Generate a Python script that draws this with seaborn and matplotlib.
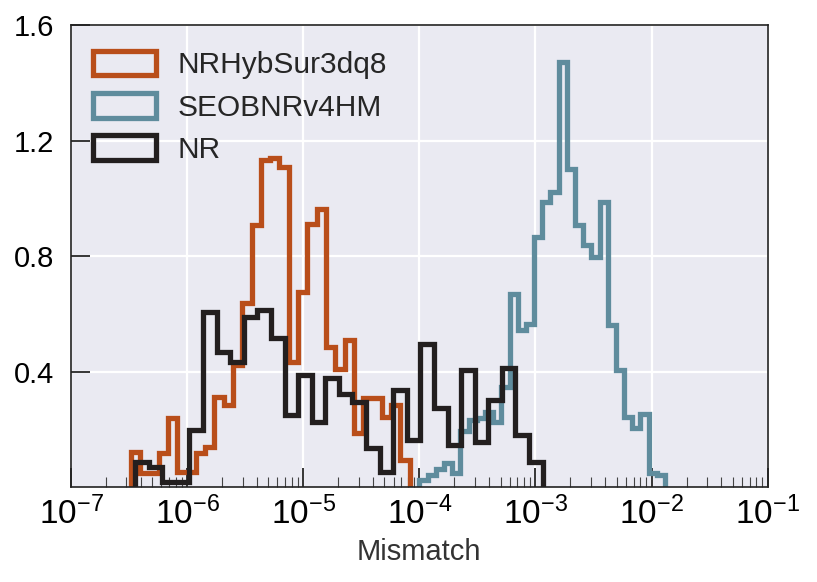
import numpy as np
import pandas as pd
import matplotlib
matplotlib.use("Agg")
import matplotlib.pyplot as plt
import seaborn as sns
from matplotlib.patches import Patch
from matplotlib.ticker import LogLocator, NullFormatter

# ---------------- data (density per log10 unit, 30 log-spaced bins each) ----------------
labels = ["NRHybSur3dq8", "SEOBNRv4HM", "NR"]
colors = ["#B94E1A", "#5F8C9D", "#231F1F"]

n_bins = 30
sur_range = (-6.485, -4.084)   # log10 mismatch range of NRHybSur3dq8 bins
seob_range = (-3.999, -1.884)  # log10 mismatch range of SEOBNRv4HM bins
nr_range = (-6.448, -2.938)    # log10 mismatch range of NR bins

sur_density = [0.123, 0.048, 0.048, 0.117, 0.238, 0.054, 0.054, 0.117, 0.140, 0.313,
               0.284, 0.422, 0.636, 0.906, 1.131, 1.138, 1.108, 0.434, 0.676, 0.912,
               0.964, 0.486, 0.410, 0.508, 0.187, 0.308, 0.308, 0.244, 0.284, 0.094]
seob_density = [0.025, 0.042, 0.062, 0.085, 0.048, 0.195, 0.232, 0.240, 0.261, 0.226,
                0.347, 0.670, 0.545, 0.566, 0.866, 0.987, 1.021, 1.471, 1.102, 0.906,
                0.837, 0.797, 0.987, 0.561, 0.405, 0.244, 0.204, 0.255, 0.048, 0.042]
nr_density = [0.088, 0.070, 0.019, 0.019, 0.198, 0.607, 0.468, 0.432, 0.589, 0.613,
              0.515, 0.250, 0.388, 0.226, 0.379, 0.322, 0.296, 0.134, 0.054, 0.336,
              0.165, 0.494, 0.273, 0.146, 0.405, 0.157, 0.301, 0.411, 0.180, 0.088]

x_major_ticks = [1e-7, 1e-6, 1e-5, 1e-4, 1e-3, 1e-2, 1e-1]
y_major_ticks = [0.4, 0.8, 1.2, 1.6]

ranges = [sur_range, seob_range, nr_range]
densities = [sur_density, seob_density, nr_density]

# ---------------- style ----------------
sns.set_style("darkgrid", {"axes.facecolor": "#EAEAF2", "grid.color": "white"})
plt.rcParams["font.family"] = ["Liberation Sans", "DejaVu Sans"]
plt.rcParams["mathtext.fontset"] = "custom"
plt.rcParams["mathtext.rm"] = "Liberation Sans"
plt.rcParams["mathtext.it"] = "Liberation Sans:italic"
plt.rcParams["mathtext.bf"] = "Liberation Sans:bold"

fig = plt.figure(figsize=(8.17, 5.82), dpi=100)
ax = fig.add_axes([71 / 817, (582 - 487.2) / 582, (767.7 - 71) / 817, (487.2 - 25) / 582])

lw = 3.8
for lab, col, (lo, hi), dens in zip(labels, colors, ranges, densities):
    w = (hi - lo) / n_bins
    # one empty bin on each side so the outline drops to zero at both ends
    lo_p, hi_p = lo - w, hi + w
    dens_p = [0.0] + list(dens) + [0.0]
    centers = 10 ** (lo_p + (np.arange(n_bins + 2) + 0.5) * w)
    df = pd.DataFrame({"mismatch": centers, "density": dens_p})
    n_before = len(ax.lines)
    sns.histplot(data=df, x="mismatch", weights="density", bins=n_bins + 2,
                 binrange=(lo_p, hi_p), log_scale=True, stat="count",
                 element="step", fill=False, color=col, linewidth=lw,
                 solid_joinstyle="miter", ax=ax, label=lab)
    # collapse the zero-height padding segments so no line runs along the baseline
    for line in ax.lines[n_before:]:
        xs = np.array(line.get_xdata(), dtype=float)
        ys = np.array(line.get_ydata(), dtype=float)
        if len(xs) > 3:
            xs[0] = xs[1]
            xs[-1] = xs[-2]
            line.set_data(xs, ys)

ax.set_xscale("log")
ax.set_xlim(1e-7, 1e-1)
ax.set_ylim(0, 1.6)
ax.set_xticks(x_major_ticks)
ax.set_yticks(y_major_ticks)
ax.xaxis.set_minor_locator(LogLocator(base=10, subs=np.arange(2, 10), numticks=20))
ax.xaxis.set_minor_formatter(NullFormatter())

ax.set_xlabel("Mismatch", fontsize=21, color="#333333", labelpad=5)
ax.set_ylabel("")

ax.grid(True, which="major", color="white", linewidth=1.6)
ax.grid(False, which="minor")
ax.set_axisbelow(True)

ax.tick_params(axis="x", which="major", direction="in", length=14, width=1.1,
               color="black", pad=7, labelsize=24, bottom=True, top=False)
ax.tick_params(axis="x", which="minor", direction="in", length=7, width=0.8,
               color="#444444", bottom=True, top=False)
ax.tick_params(axis="y", which="major", direction="in", length=14, width=1.1,
               color="black", pad=12, labelsize=21, left=True, right=False)
for lab in ax.get_xticklabels() + ax.get_yticklabels():
    lab.set_color("black")

for side, sp in ax.spines.items():
    sp.set_visible(True)
    sp.set_color("#222222")
    sp.set_linewidth(1.2)
    sp.set_zorder(3)

handles = [Patch(facecolor="none", edgecolor=c, linewidth=lw, label=l)
           for l, c in zip(labels, colors)]
ax.legend(handles=handles, loc="upper left", bbox_to_anchor=(0.0, 0.993),
          frameon=False, fontsize=21.5,
          handlelength=2.1, handleheight=0.9, labelspacing=0.46,
          borderaxespad=0.35, borderpad=0.4, handletextpad=0.73,
          labelcolor="#262626")

fig.savefig("out.png", dpi=100)
